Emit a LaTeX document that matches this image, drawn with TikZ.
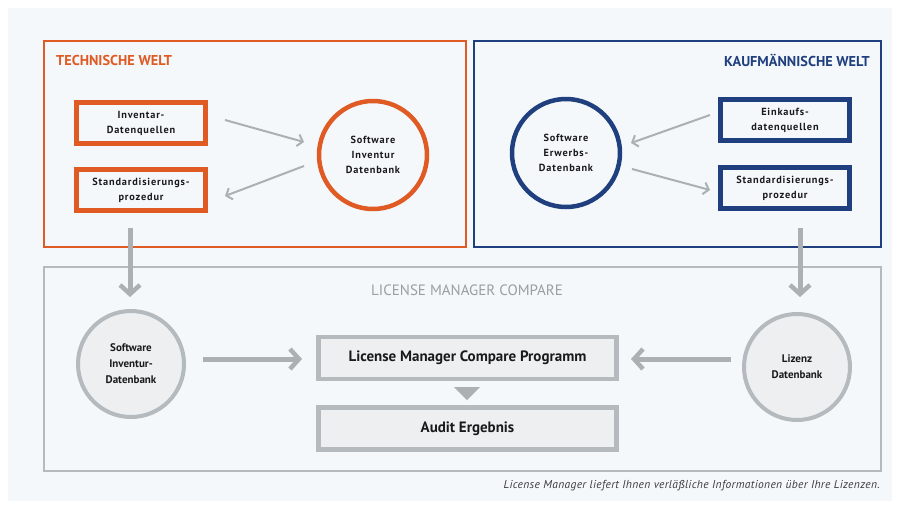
\documentclass[tikz,border=0pt]{standalone}
\usepackage{fontspec}
\setmainfont{PT Sans}
\usetikzlibrary{arrows.meta}
\definecolor{bgc}{HTML}{F4F8FB}
\definecolor{orng}{HTML}{E05A24}
\definecolor{blu}{HTML}{1F3F7E}
\definecolor{frm}{HTML}{B5BABF}
\definecolor{arr}{HTML}{ABB0B5}
\definecolor{gfill}{HTML}{EDEFF1}
\definecolor{txt}{HTML}{1A1A1A}
\newfontfamily\spc[LetterSpace=8]{PT Sans}
\newfontfamily\capf[LetterSpace=3]{PT Sans}
\begin{document}
\begin{tikzpicture}[x=1pt,y=-1pt,
  frame/.style={draw, line width=1.8pt},
  obox/.style={draw=orng, line width=4.5pt, fill=bgc, minimum width=129pt, minimum height=41pt, inner sep=0pt, align=center, font=\spc\bfseries\fontsize{10.3}{15}\selectfont, text=txt},
  bbox/.style={obox, draw=blu},
  ocirc/.style={circle, draw=orng, line width=4.5pt, fill=bgc, minimum size=108pt, inner sep=0pt, align=center, font=\spc\bfseries\fontsize{10.3}{15}\selectfont, text=txt},
  bcirc/.style={ocirc, draw=blu},
  gcirc/.style={circle, draw=frm, line width=4pt, fill=gfill, minimum size=106pt, inner sep=0pt, align=center, font=\bfseries\fontsize{11}{16}\selectfont, text=txt},
  gbox/.style={draw=frm, line width=4.5pt, fill=gfill, minimum width=298pt, minimum height=42pt, inner sep=0pt, font=\bfseries\fontsize{15}{17}\selectfont, text=txt},
  thin/.style={draw=arr, line width=2pt, -{Straight Barb[length=5pt,width=12pt]}},
  thick/.style={draw=arr, line width=5pt, -{Straight Barb[length=9pt,width=20pt,line width=4.5pt]}},
  title/.style={font=\bfseries\fontsize{14.3}{16}\selectfont, inner sep=0pt}
]
\useasboundingbox (0,0) rectangle (900,509);
\fill[white] (0,0) rectangle (900,509);
\fill[bgc] (8,8) rectangle (892,501);

% frames
\draw[frame, draw=orng] (44,41) rectangle (466,247);
\draw[frame, draw=blu] (474,41) rectangle (881,247);
\draw[frame, draw=frm] (44,267) rectangle (881,471);

\node[title, text=orng, anchor=west] (t1) at (56,60) {TECHNISCHE WELT};
\node[title, text=blu, anchor=east] (t2) at (870,60) {KAUFMÄNNISCHE WELT};
\node[font=\fontsize{15}{17}\selectfont, text=arr!90!black, inner sep=0pt] (t3) at (467,290) {LICENSE MANAGER COMPARE};

% technical world
\node[obox] (inv) at (141,123) {Inventar-\\Datenquellen};
\node[obox] (std1) at (141,190) {Standardisierungs-\\prozedur};
\node[ocirc] (sid) at (373,155) {Software\\Inventur\\Datenbank};
\coordinate (a1s) at (225,120); \coordinate (a1e) at (304,142);
\coordinate (a2s) at (304,166); \coordinate (a2e) at (225,196);
\draw[thin] (a1s) -- (a1e);
\draw[thin] (a2s) -- (a2e);

% commercial world
\node[bcirc] (sed) at (566,153) {Software\\Erwerbs-\\Datenbank};
\node[bbox] (ein) at (785,120) {Einkaufs-\\datenquellen};
\node[bbox] (std2) at (785,188) {Standardisierungs-\\prozedur};
\coordinate (b1s) at (710,115); \coordinate (b1e) at (631,143);
\coordinate (b2s) at (632,169); \coordinate (b2e) at (710,190);
\draw[thin] (b1s) -- (b1e);
\draw[thin] (b2s) -- (b2e);

% compare
\node[gcirc] (lsid) at (131,364) {Software\\Inventur-\\Datenbank};
\node[gcirc] (liz) at (797,367) {Lizenz\\Datenbank};
\node[gbox] (prog) at (467.5,358) {License Manager Compare Programm};
\node[gbox] (aud) at (467.5,428.5) {Audit Ergebnis};

\coordinate (d1s) at (130,228); \coordinate (d1e) at (130,297);
\coordinate (d2s) at (800,228); \coordinate (d2e) at (800,297);
\draw[thick] (d1s) -- (d1e);
\draw[thick] (d2s) -- (d2e);

\coordinate (l1s) at (203,359); \coordinate (l1e) at (302,359);
\coordinate (r1s) at (731,359); \coordinate (r1e) at (631,359);
\draw[thick] (l1s) -- (l1e);
\draw[thick] (r1s) -- (r1e);

\fill[arr] (454,387) -- (480,387) -- (467,400) -- cycle;

\node[anchor=east, font=\capf\itshape\fontsize{11.5}{13}\selectfont, text=txt!85, inner sep=0pt] (cap) at (880,486) {License Manager liefert Ihnen verläßliche Informationen über Ihre Lizenzen.};
\end{tikzpicture}
\end{document}
